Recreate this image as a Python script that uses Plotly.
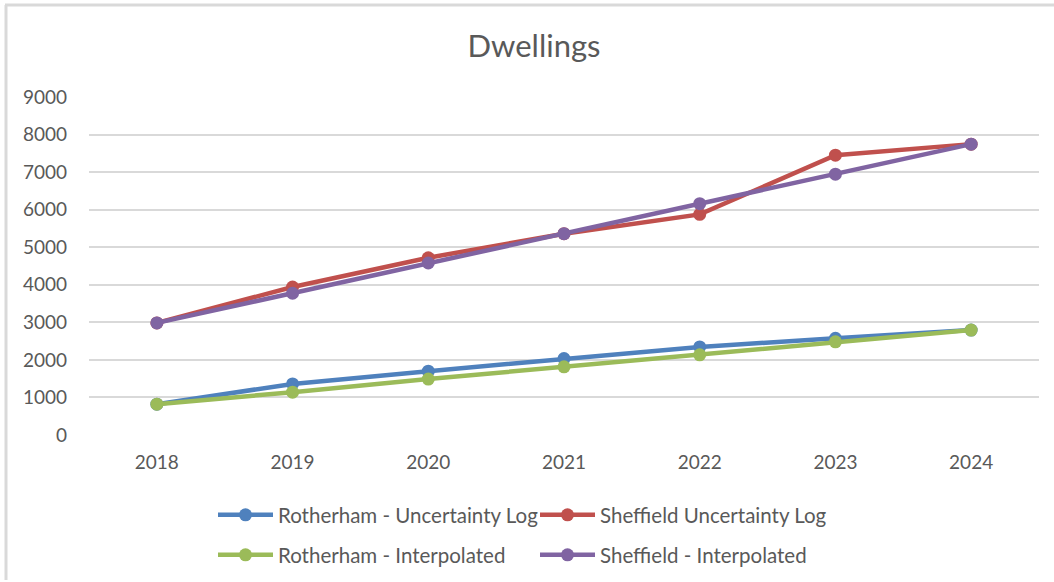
import plotly.graph_objects as go

years = ["2018", "2019", "2020", "2021", "2022", "2023", "2024"]
rotherham_uncertainty = [820, 1360, 1700, 2035, 2345, 2575, 2795]
sheffield_uncertainty = [2985, 3940, 4720, 5360, 5875, 7450, 7745]
rotherham_interpolated = [820, 1140, 1490, 1815, 2135, 2480, 2795]
sheffield_interpolated = [2985, 3775, 4580, 5360, 6160, 6945, 7745]
y_ticks = [0, 1000, 2000, 3000, 4000, 5000, 6000, 7000, 8000, 9000]

FONT = "Lato"
GREY = "#595959"

series = [
    ("Rotherham - Uncertainty Log", rotherham_uncertainty, "#4F81BD", "legend"),
    ("Sheffield Uncertainty Log", sheffield_uncertainty, "#C0504D", "legend"),
    ("Rotherham - Interpolated", rotherham_interpolated, "#9BBB59", "legend2"),
    ("Sheffield - Interpolated", sheffield_interpolated, "#8064A2", "legend2"),
]

W, H = 1054, 582
L, R, T, B = 89, 15, 97, 147

fig = go.Figure()
for name, vals, col, lg in series:
    fig.add_trace(go.Scatter(
        x=years, y=vals, name=name, mode="lines+markers",
        line=dict(color=col, width=4.5),
        marker=dict(color=col, size=13),
        legend=lg, hoverinfo="skip",
    ))

legend_common = dict(
    orientation="h", xref="container", yref="container",
    xanchor="left", yanchor="middle",
    entrywidth=252, entrywidthmode="pixels",
    font=dict(family=FONT, size=20.5, color=GREY),
    bgcolor="rgba(0,0,0,0)", itemwidth=55,
)

fig.update_layout(
    width=W, height=H,
    margin=dict(l=L, r=R, t=T, b=B),
    paper_bgcolor="white", plot_bgcolor="white",
    font=dict(family=FONT, color=GREY),
    title=dict(text="Dwellings", x=534 / W, xref="container", xanchor="center",
               y=1 - 46 / H, yref="container", yanchor="middle",
               font=dict(family=FONT, size=31, color=GREY)),
    legend=dict(x=213 / W, y=1 - 515 / H, **legend_common),
    legend2=dict(x=213 / W, y=1 - 555 / H, **legend_common),
    xaxis=dict(type="category", range=[-0.5, 6.5], showgrid=False,
               showline=False, ticks="", zeroline=False,
               tickfont=dict(family=FONT, size=19, color=GREY),
               ticklabelstandoff=14),
    yaxis=dict(range=[0, 9000], tickvals=y_ticks,
               showgrid=True, gridcolor="#D9D9D9", gridwidth=2,
               zeroline=False, showline=False, ticks="",
               tickfont=dict(family=FONT, size=19, color=GREY),
               ticklabelstandoff=21),
    showlegend=True,
)

pw, ph = W - L - R, H - T - B
def px(xp):
    return (xp - L) / pw
def py(yp):
    return (H - B - yp) / ph

fig.add_shape(type="line", xref="paper", yref="paper",
              x0=px(5), x1=px(1054), y0=py(5), y1=py(5),
              line=dict(color="#D9D9D9", width=3))
fig.add_shape(type="line", xref="paper", yref="paper",
              x0=px(6), x1=px(6), y0=py(5), y1=py(580),
              line=dict(color="#D9D9D9", width=3))

fig.write_html("out.html")
